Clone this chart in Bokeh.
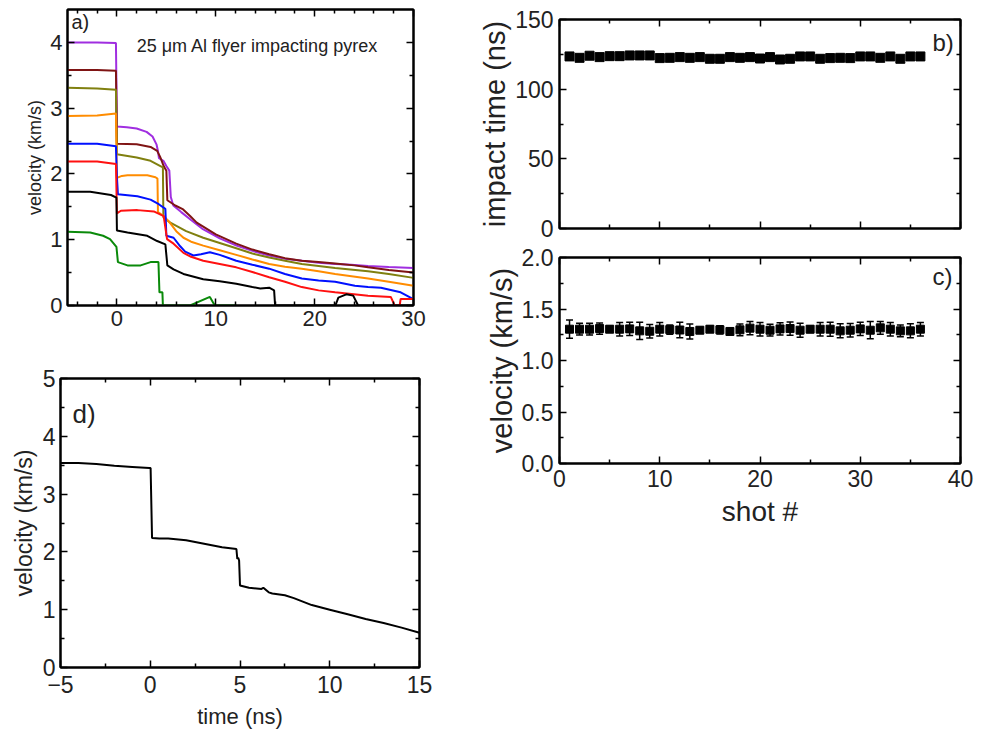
from bokeh.plotting import figure
from bokeh.models import (LinearAxis, FixedTicker, Label, Whisker, ColumnDataSource,
                          Range1d, TeeHead)
from bokeh.layouts import row, column
from bokeh.embed import file_html
from bokeh.resources import INLINE

# ---------------- data ----------------
# panel a: simulated flyer velocity (km/s) vs time (ns), one series per launch speed
a_purple_t = [-5, -2, -0.1, 0.0, 1.0, 2.0, 3.0, 3.6, 4.0, 4.15, 4.25, 4.7, 5.0, 5.3, 5.45, 5.7, 6.5, 7.5, 8.7, 10.4, 12.1, 13.7, 15.4, 17.0, 18.7, 20.4, 22.1, 23.7, 25.4, 27.5, 30.0]
a_purple_v = [4.0, 4.0, 3.99, 2.72, 2.71, 2.69, 2.64, 2.57, 2.45, 2.35, 2.24, 2.20, 2.12, 2.05, 1.65, 1.52, 1.42, 1.30, 1.16, 1.02, 0.91, 0.83, 0.76, 0.71, 0.68, 0.65, 0.63, 0.62, 0.60, 0.585, 0.57]

a_maroon_t = [-5, -2, -0.1, 0.0, 2.0, 3.4, 4.07, 4.4, 4.73, 5.0, 5.1, 5.9, 6.7, 7.4, 8.07, 10.0, 12.07, 13.7, 15.4, 17.0, 18.7, 20.4, 22.07, 24.0, 25.4, 27.5, 30.0]
a_maroon_v = [3.58, 3.58, 3.57, 2.46, 2.45, 2.41, 2.35, 2.25, 2.12, 2.05, 1.60, 1.52, 1.46, 1.36, 1.26, 1.08, 0.94, 0.85, 0.78, 0.72, 0.68, 0.66, 0.64, 0.61, 0.58, 0.54, 0.50]

a_olive_t = [-5, -2, -0.1, 0.0, 2.0, 3.4, 4.4, 4.65, 4.7, 5.4, 7.0, 8.73, 10.4, 12.07, 13.7, 15.4, 17.0, 18.7, 20.4, 22.07, 25.4, 27.5, 30.0]
a_olive_v = [3.31, 3.30, 3.28, 2.30, 2.25, 2.20, 2.12, 2.10, 1.34, 1.26, 1.13, 1.03, 0.95, 0.87, 0.79, 0.73, 0.68, 0.63, 0.60, 0.57, 0.52, 0.48, 0.42]

a_orange_t = [-5, -2, -0.1, 0.0, 0.5, 1.07, 3.07, 3.9, 4.1, 4.15, 4.73, 5.4, 6.0, 6.73, 7.5, 8.73, 10.4, 12.07, 13.7, 15.4, 17.0, 18.7, 20.4, 22.07, 25.4, 27.5, 30.0]
a_orange_v = [2.88, 2.89, 2.92, 1.94, 1.97, 1.98, 1.98, 1.95, 1.93, 1.42, 1.36, 1.25, 1.13, 1.03, 0.97, 0.91, 0.84, 0.77, 0.70, 0.63, 0.59, 0.56, 0.52, 0.48, 0.41, 0.36, 0.30]

a_blue_t = [-5, -2, -0.1, 0.0, 0.1, 2.07, 3.4, 4.23, 4.9, 5.0, 5.73, 6.4, 6.9, 7.73, 8.5, 9.4, 10.4, 12.07, 13.7, 15.4, 17.0, 18.7, 20.4, 22.07, 24.07, 25.4, 26.7, 28.7, 29.7, 30.0]
a_blue_v = [2.46, 2.46, 2.42, 1.95, 1.69, 1.66, 1.61, 1.54, 1.47, 1.06, 1.03, 0.90, 0.82, 0.76, 0.78, 0.81, 0.77, 0.68, 0.62, 0.56, 0.48, 0.41, 0.38, 0.36, 0.30, 0.28, 0.27, 0.20, 0.12, 0.09]

a_red_t = [-5, -2, -0.1, 0.0, 0.4, 2.07, 3.73, 4.73, 5.07, 5.73, 6.73, 7.5, 8.73, 10.4, 12.07, 13.7, 15.4, 17.0, 18.7, 20.4, 22.07, 25.4, 27.7, 28.1, 28.6, 28.7, 30.0]
a_red_v = [2.19, 2.19, 2.15, 1.40, 1.44, 1.45, 1.43, 1.36, 1.01, 0.94, 0.80, 0.74, 0.68, 0.63, 0.58, 0.51, 0.43, 0.36, 0.28, 0.23, 0.20, 0.15, 0.13, 0.0, 0.0, 0.10, 0.10]

a_black_t = [-5, -2.7, -0.6, -0.05, 0.0, 1.07, 3.07, 4.07, 4.9, 5.1, 5.73, 6.73, 8.73, 10.4, 12.07, 13.7, 14.5, 15.4, 15.9, 16.0, 22.1, 22.4, 23.2, 23.9, 24.4, 30.0]
a_black_v = [1.73, 1.73, 1.68, 1.64, 1.14, 1.11, 1.06, 0.98, 0.93, 0.61, 0.55, 0.48, 0.40, 0.37, 0.33, 0.28, 0.26, 0.27, 0.23, 0.0, 0.0, 0.12, 0.17, 0.15, 0.0, 0.0]

a_green_t = [-5, -2.7, -1.4, -0.7, -0.05, 0.1, 1.07, 2.4, 3.4, 4.2, 4.3, 4.6, 4.65, 7.4, 9.4, 9.9, 12.1]
a_green_v = [1.12, 1.11, 1.06, 1.01, 0.89, 0.66, 0.61, 0.61, 0.66, 0.66, 0.20, 0.20, 0.0, 0.0, 0.13, 0.0, 0.0]

a_series = [
    (a_purple_t, a_purple_v, "#a02ee0"),
    (a_maroon_t, a_maroon_v, "#7f1414"),
    (a_olive_t, a_olive_v, "#808010"),
    (a_orange_t, a_orange_v, "#ff8c00"),
    (a_blue_t, a_blue_v, "#0010ff"),
    (a_red_t, a_red_v, "#ff1010"),
    (a_black_t, a_black_v, "#000000"),
    (a_green_t, a_green_v, "#0a8a0a"),
]

# panels b and c: per-shot impact time (ns) and velocity (km/s) with error
shots = list(range(1, 37))
impact_time = [123.5, 122.5, 124.0, 123.0, 123.7, 123.7, 124.2, 124.2, 124.2, 122.3, 122.5, 123.0,
               122.5, 123.0, 121.8, 121.8, 123.0, 122.5, 123.0, 122.0, 123.0, 121.3, 121.8, 123.5,
               123.5, 121.8, 122.3, 122.5, 122.3, 123.5, 123.5, 122.5, 123.5, 121.8, 123.5, 123.5]
shot_velocity = [1.304, 1.304, 1.304, 1.310, 1.304, 1.304, 1.307, 1.288, 1.284, 1.304, 1.300, 1.296,
                 1.282, 1.294, 1.304, 1.298, 1.282, 1.298, 1.314, 1.304, 1.294, 1.307, 1.310, 1.294,
                 1.304, 1.304, 1.304, 1.288, 1.294, 1.307, 1.294, 1.317, 1.304, 1.288, 1.288, 1.304]
velocity_err = [0.089, 0.057, 0.057, 0.055, 0.030, 0.065, 0.065, 0.084, 0.065, 0.065, 0.044, 0.076,
                0.073, 0.030, 0.030, 0.040, 0.030, 0.057, 0.065, 0.065, 0.057, 0.060, 0.065, 0.068,
                0.032, 0.065, 0.068, 0.068, 0.065, 0.065, 0.084, 0.062, 0.065, 0.057, 0.068, 0.065]

# panel d: measured velocity trace
d_time = [-5, -4, -3, -2, -1, -0.05, 0.02, 0.1, 0.5, 1.0, 2.0, 3.0, 4.0, 4.8, 4.85, 4.9, 4.95, 5.0,
          5.5, 6.2, 6.3, 6.6, 6.8, 7.5, 8.0, 8.5, 9.0, 10.0, 11.0, 12.0, 13.0, 14.0, 15.0]
d_velocity = [3.54, 3.54, 3.52, 3.49, 3.47, 3.45, 3.45, 2.24, 2.23, 2.23, 2.20, 2.14, 2.08, 2.05, 1.88,
              1.90, 1.85, 1.42, 1.38, 1.36, 1.38, 1.30, 1.28, 1.25, 1.20, 1.14, 1.08, 1.00, 0.92,
              0.84, 0.77, 0.69, 0.60]

# tick positions
a_xticks = [0, 10, 20, 30]
a_xminor = [-4, -2, 2, 4, 6, 8, 12, 14, 16, 18, 22, 24, 26, 28]
a_yticks = [0, 1, 2, 3, 4]
a_yminor = [0.5, 1.5, 2.5, 3.5]
bc_xticks = [0, 10, 20, 30, 40]
bc_xminor = [5, 15, 25, 35]
b_yticks = [0, 50, 100, 150]
b_yminor = [25, 75, 125]
c_yticks = [0.0, 0.5, 1.0, 1.5, 2.0]
c_yminor = [0.25, 0.75, 1.25, 1.75]
d_xticks = [-5, 0, 5, 10, 15]
d_xminor = [-2.5, 2.5, 7.5, 12.5]
d_yticks = [0, 1, 2, 3, 4, 5]
d_yminor = [0.5, 1.5, 2.5, 3.5, 4.5]

FONT = "Liberation Sans"
TXT = "#222222"


def style_axis(ax, ticks, minor, font_px, show_labels, major_len, minor_len, standoff):
    ax.ticker = FixedTicker(ticks=ticks, minor_ticks=minor)
    ax.axis_line_color = "black"
    ax.axis_line_width = 2
    ax.major_tick_in = major_len
    ax.major_tick_out = 0
    ax.minor_tick_in = minor_len
    ax.minor_tick_out = 0
    ax.major_tick_line_width = 1.5
    ax.minor_tick_line_width = 1.5
    ax.major_tick_line_color = "black"
    ax.minor_tick_line_color = "black"
    ax.major_label_text_font = FONT
    ax.major_label_text_color = TXT
    ax.axis_label_text_font = FONT
    ax.axis_label_text_color = TXT
    ax.axis_label_text_font_style = "normal"
    if show_labels:
        ax.major_label_text_font_size = f"{font_px}px"
        ax.major_label_standoff = standoff
    else:
        ax.major_label_text_font_size = "0px"
        ax.major_label_text_alpha = 0
        ax.major_label_standoff = 0


def make_fig(xr, yr, fw, fh, left, right, top, bottom):
    p = figure(frame_width=fw, frame_height=fh, x_range=Range1d(*xr), y_range=Range1d(*yr),
               output_backend="svg", toolbar_location=None,
               min_border_left=left, min_border_right=right,
               min_border_top=top, min_border_bottom=bottom)
    p.grid.visible = False
    p.outline_line_color = "black"
    p.outline_line_width = 2
    p.background_fill_color = "white"
    p.border_fill_color = "white"
    return p


def add_frame(p, xt, xm, yt, ym, font_px, show_x, xlab, ylab, lab_px,
              major_len, minor_len, xstand, ystand, xlab_stand, ylab_stand):
    style_axis(p.xaxis[0], xt, xm, font_px, show_x, major_len, minor_len, xstand)
    style_axis(p.yaxis[0], yt, ym, font_px, True, major_len, minor_len, ystand)
    if xlab:
        p.xaxis[0].axis_label = xlab
        p.xaxis[0].axis_label_text_font_size = f"{lab_px[0]}px"
        p.xaxis[0].axis_label_standoff = xlab_stand
    if ylab:
        p.yaxis[0].axis_label = ylab
        p.yaxis[0].axis_label_text_font_size = f"{lab_px[1]}px"
        p.yaxis[0].axis_label_standoff = ylab_stand
    top_ax = LinearAxis()
    style_axis(top_ax, xt, xm, font_px, False, major_len, minor_len, 0)
    p.add_layout(top_ax, "above")
    right_ax = LinearAxis()
    style_axis(right_ax, yt, ym, font_px, False, major_len, minor_len, 0)
    p.add_layout(right_ax, "right")


# ---------------- panel a ----------------
pa = make_fig((-5, 30), (0, 4.5), 346, 296, 67, 35, 9, 35)
for t, v, c in a_series:
    pa.line(t, v, line_color=c, line_width=2)
add_frame(pa, a_xticks, a_xminor, a_yticks, a_yminor, 22, True, None,
          "velocity (km/s)", (18, 18), 7, 4, 5, 5, None, 2)
pa.add_layout(Label(x=-4.6, y=4.47, text="a)", text_baseline="top", text_font=FONT,
                    text_font_size="20px", text_color=TXT))
pa.add_layout(Label(x=2.0, y=3.94, text="25 \u03bcm Al flyer impacting pyrex",
                    text_baseline="middle", text_font=FONT, text_font_size="18px",
                    text_color=TXT))

# ---------------- panel d ----------------
pd_ = make_fig((-5, 15), (0, 5), 359, 289, 60, 29, 38, 66)
pd_.line(d_time, d_velocity, line_color="black", line_width=2)
add_frame(pd_, d_xticks, d_xminor, d_yticks, d_yminor, 23, True, "time (ns)",
          "velocity (km/s)", (22, 23), 7, 4, 8, 5, 8, 3)
pd_.xaxis[0].major_label_overrides = {-5: "\u22125"}
pd_.add_layout(Label(x=-4.33, y=4.39, text="d)", text_baseline="middle", text_font=FONT,
                     text_font_size="26px", text_color=TXT))
pd_.styles = {"margin-left": "-7px"}

# ---------------- panel b ----------------
pb = make_fig((0, 40), (0, 150), 401, 209, 111, 15, 19, 14)
pb.scatter(shots, impact_time, marker="square", size=9, color="black")
add_frame(pb, bc_xticks, bc_xminor, b_yticks, b_yminor, 23, False, None,
          "impact time (ns)", (29, 29), 7, 4, 0, 6, None, 1)
pb.add_layout(Label(x=37.2, y=143, text="b)", text_baseline="top", text_font=FONT,
                    text_font_size="24px", text_color=TXT))

# ---------------- panel c ----------------
pc = make_fig((0, 40), (0, 2.0), 401, 206, 111, 15, 15, 72)
src = ColumnDataSource(dict(
    x=shots, y=shot_velocity,
    upper=[v + e for v, e in zip(shot_velocity, velocity_err)],
    lower=[v - e for v, e in zip(shot_velocity, velocity_err)],
))
pc.add_layout(Whisker(source=src, base="x", upper="upper", lower="lower",
                      line_color="black", line_width=1.5,
                      upper_head=TeeHead(size=7, line_width=1.5, line_color="black"),
                      lower_head=TeeHead(size=7, line_width=1.5, line_color="black")))
pc.scatter("x", "y", source=src, marker="square", size=8, color="black")
add_frame(pc, bc_xticks, bc_xminor, c_yticks, c_yminor, 23, True, "shot #",
          "velocity (km/s)", (28, 29), 7, 4, 6, 6, 6, 1)
pc.yaxis[0].major_label_overrides = {0.0: "0.0", 0.5: "0.5", 1.0: "1.0", 1.5: "1.5", 2.0: "2.0"}
pc.add_layout(Label(x=37.2, y=1.815, text="c)", text_baseline="middle", text_font=FONT,
                    text_font_size="24px", text_color=TXT))

layout = row(column(pa, pd_), column(pb, pc))

open("out.html", "w").write(file_html(layout, INLINE))
